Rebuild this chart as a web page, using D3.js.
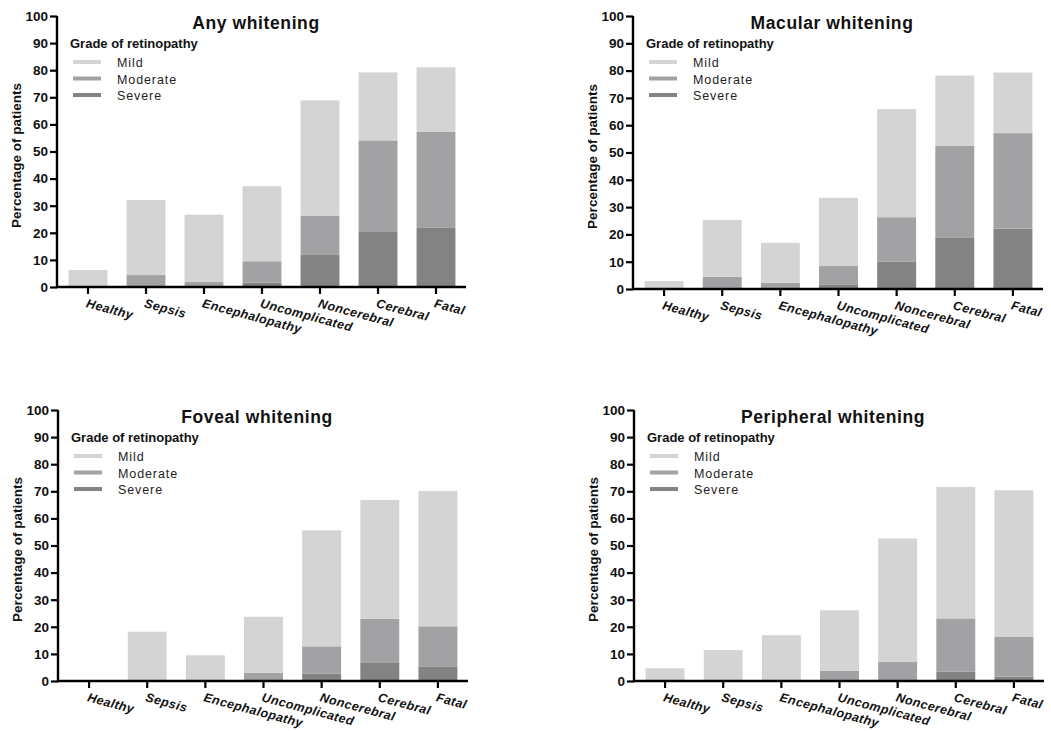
<!DOCTYPE html>
<html>
<head>
<meta charset="utf-8">
<script src="https://cdn.jsdelivr.net/npm/d3@7"></script>
<style>
  html, body { margin: 0; padding: 0; background: #fff; }
  svg { display: block; font-family: Arial, "Liberation Sans", sans-serif; }
</style>
</head>
<body>
<svg id="chart" width="1051" height="731"></svg>
<script>
// ---------------- DATA ----------------
const categories = ["Healthy", "Sepsis", "Encephalopathy", "Uncomplicated", "Noncerebral", "Cerebral", "Fatal"];
const grades = ["Mild", "Moderate", "Severe"];
const yTicks = [0, 10, 20, 30, 40, 50, 60, 70, 80, 90, 100];
const panelTitles = ["Any whitening", "Macular whitening", "Foveal whitening", "Peripheral whitening"];
const legendTitle = "Grade of retinopathy";
const yAxisLabel = "Percentage of patients";

// Per panel, per category segment heights (percent of patients)
const anySevere    = [0, 0, 0, 1.6, 11.8, 20.3, 22.0];
const anyModerate  = [0, 4.4, 2.0, 7.9, 14.5, 33.8, 35.2];
const anyMild      = [6.3, 27.7, 24.7, 27.7, 42.6, 25.1, 23.9];

const macSevere    = [0, 0, 0, 1.7, 10.0, 18.7, 22.1];
const macModerate  = [0, 4.5, 2.3, 6.7, 16.3, 33.7, 35.0];
const macMild      = [2.9, 20.8, 14.6, 25.0, 39.6, 25.8, 22.2];

const fovSevere    = [0, 0, 0, 0, 2.8, 6.9, 5.2];
const fovModerate  = [0, 0, 0, 3.0, 10.0, 16.1, 15.0];
const fovMild      = [0, 18.2, 9.5, 20.7, 42.8, 43.8, 49.9];

const perSevere    = [0, 0, 0, 0, 0, 3.4, 1.6];
const perModerate  = [0, 0, 0, 3.7, 7.0, 19.7, 14.8];
const perMild      = [4.7, 11.4, 16.9, 22.4, 45.6, 48.5, 54.0];

const panelSeries = [
  {Severe: anySevere, Moderate: anyModerate, Mild: anyMild},
  {Severe: macSevere, Moderate: macModerate, Mild: macMild},
  {Severe: fovSevere, Moderate: fovModerate, Mild: fovMild},
  {Severe: perSevere, Moderate: perModerate, Mild: perMild}
];

// ---------------- LAYOUT ----------------
const panelBoxes = [
  {left: 57,  top: 16,  bottom: 287, right: 466},
  {left: 633, top: 16,  bottom: 289, right: 1043},
  {left: 58,  top: 410, bottom: 681, right: 468},
  {left: 634, top: 410, bottom: 681, right: 1044}
];
const colors = {Mild: "#d4d4d4", Moderate: "#a2a2a5", Severe: "#838383"};
const stackOrder = ["Severe", "Moderate", "Mild"];

const svg = d3.select("#chart");

panelBoxes.forEach((box, pi) => {
  const g = svg.append("g");
  const series = panelSeries[pi];

  const x = d3.scaleBand()
    .domain(categories)
    .range([box.left + 2, box.right - 1])
    .paddingInner(0.33)
    .paddingOuter(0.165);

  const y = d3.scaleLinear().domain([0, 100]).range([box.bottom, box.top]);

  const rows = categories.map((c, i) => {
    const r = {category: c};
    stackOrder.forEach(k => r[k] = series[k][i]);
    return r;
  });
  const stacked = d3.stack().keys(stackOrder)(rows);

  g.append("g").selectAll("g")
    .data(stacked)
    .join("g")
    .attr("fill", d => colors[d.key])
    .selectAll("rect")
    .data(d => d)
    .join("rect")
    .attr("x", d => x(d.data.category))
    .attr("width", x.bandwidth())
    .attr("y", d => y(d[1]))
    .attr("height", d => Math.max(0, y(d[0]) - y(d[1])));

  // Y axis
  const yAxis = d3.axisLeft(y).tickValues(yTicks).tickSize(7).tickPadding(2);
  const yg = g.append("g").attr("transform", `translate(${box.left},0)`).call(yAxis);
  yg.select(".domain").attr("stroke", "#000").attr("stroke-width", 2.4)
    .attr("d", `M0,${box.top}V${box.bottom + 1}`);
  yg.selectAll(".tick line").attr("stroke", "#000").attr("stroke-width", 2.2);
  yg.selectAll(".tick text").attr("font-size", 13.5).attr("font-weight", "bold").attr("fill", "#111");

  // X axis
  const xAxis = d3.axisBottom(x).tickSize(7).tickFormat("");
  const xg = g.append("g").attr("transform", `translate(0,${box.bottom})`).call(xAxis);
  xg.select(".domain").attr("stroke", "#000").attr("stroke-width", 2.4)
    .attr("d", `M${box.left - 1},0H${box.right}`);
  xg.selectAll(".tick line").attr("stroke", "#000").attr("stroke-width", 2.2);

  // Rotated category labels
  g.append("g").selectAll("text")
    .data(categories)
    .join("text")
    .attr("transform", d => `translate(${x(d) + x.bandwidth() / 2},${box.bottom + 11}) rotate(15)`)
    .attr("dy", "0.75em")
    .attr("font-size", 12.5)
    .attr("font-weight", "bold")
    .attr("font-style", "italic")
    .attr("letter-spacing", 0.4)
    .attr("fill", "#111")
    .text(d => d);

  // Y axis label
  g.append("text")
    .attr("transform", `translate(${box.left - 36},${(box.top + box.bottom) / 2 + 4}) rotate(-90)`)
    .attr("text-anchor", "middle")
    .attr("font-size", 13.5)
    .attr("font-weight", "bold")
    .attr("fill", "#111")
    .text(yAxisLabel);

  // Title
  g.append("text")
    .attr("x", box.left + 199)
    .attr("y", box.top + 13)
    .attr("text-anchor", "middle")
    .attr("font-size", 17.5)
    .attr("font-weight", "bold")
    .attr("letter-spacing", 0.6)
    .attr("fill", "#111")
    .text(panelTitles[pi]);

  // Legend
  const lg = g.append("g").attr("transform", `translate(${box.left + 13},${box.top})`);
  lg.append("text")
    .attr("x", 0).attr("y", 32)
    .attr("font-size", 13)
    .attr("font-weight", "bold")
    .attr("fill", "#111")
    .text(legendTitle);
  grades.forEach((gr, i) => {
    const cy = 46 + i * 16.5;
    lg.append("rect")
      .attr("x", 3).attr("y", cy - 2)
      .attr("width", 28).attr("height", 4)
      .attr("fill", colors[gr]);
    lg.append("text")
      .attr("x", 47).attr("y", cy + 5)
      .attr("font-size", 12.5)
      .attr("letter-spacing", 0.9)
      .attr("fill", "#222")
      .text(gr);
  });
});
</script>
</body>
</html>
